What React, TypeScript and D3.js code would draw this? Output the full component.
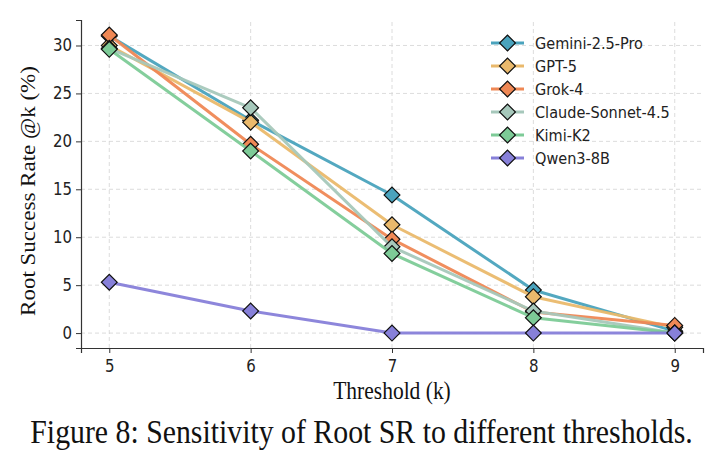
import { useEffect, useRef } from 'react';
import * as d3 from 'd3';

const thresholds = [5, 6, 7, 8, 9];
const modelNames = ['Gemini-2.5-Pro', 'GPT-5', 'Grok-4', 'Claude-Sonnet-4.5', 'Kimi-K2', 'Qwen3-8B'];
const modelColors = ['#4aa3bd', '#eab96c', '#ef8855', '#a6c8bb', '#7dcb97', '#8780d9'];
const gemini = [31.0, 22.2, 14.4, 4.5, 0.2];
const gpt5 = [30.0, 22.0, 11.3, 3.8, 0.6];
const grok4 = [31.1, 19.7, 9.8, 2.2, 0.8];
const claude = [29.7, 23.5, 9.0, 2.3, 0.0];
const kimi = [29.6, 19.0, 8.3, 1.6, 0.0];
const qwen = [5.3, 2.3, 0.0, 0.0, 0.0];
const yTicks = [0, 5, 10, 15, 20, 25, 30];

const seriesValues = [gemini, gpt5, grok4, claude, kimi, qwen];

// the source picture is a bit taller than wide, so text gets a small vertical stretch
const STRETCH = 1.15;

export default function App() {
  const ref = useRef<SVGSVGElement | null>(null);

  useEffect(() => {
    if (!ref.current) return;
    const W = 725, H = 469;
    const margin = { top: 20, right: 22, bottom: 121, left: 81 };
    const svg = d3.select(ref.current).attr('width', W).attr('height', H);
    svg.selectAll('*').remove();

    const x = d3.scaleLinear().domain([4.8, 9.2]).range([margin.left, W - margin.right]);
    const y = d3.scaleLinear().domain([-1.555, 32.66]).range([H - margin.bottom, margin.top]);
    const sans = 'DejaVu Sans, sans-serif';
    const serif = 'Liberation Serif, Times New Roman, serif';

    // grid
    const grid = svg.append('g').attr('stroke', '#d3d3d3').attr('stroke-width', 0.8)
      .attr('stroke-dasharray', '4,3');
    thresholds.forEach(t => grid.append('line').attr('x1', x(t)).attr('x2', x(t))
      .attr('y1', y.range()[0]).attr('y2', y.range()[1]));
    yTicks.forEach(t => grid.append('line').attr('x1', x.range()[0]).attr('x2', x.range()[1])
      .attr('y1', y(t)).attr('y2', y(t)));

    // axes
    const xAxis = svg.append('g').attr('transform', `translate(0,${H - margin.bottom})`)
      .call(d3.axisBottom(x).tickValues(thresholds).tickFormat(d3.format('d')).tickSizeOuter(0).tickSize(5).tickPadding(0));
    const yAxis = svg.append('g').attr('transform', `translate(${margin.left},0)`)
      .call(d3.axisLeft(y).tickValues(yTicks).tickSizeOuter(0).tickSize(5).tickPadding(0));
    xAxis.selectAll('.tick text').attr('y', null).attr('dy', null)
      .attr('transform', `translate(0,24) scale(1,${STRETCH})`);
    yAxis.selectAll('.tick text').attr('x', null).attr('dy', null)
      .attr('transform', `translate(-9,5.5) scale(1,${STRETCH})`);
    [xAxis, yAxis].forEach(a => {
      a.selectAll('text').attr('font-family', sans).attr('font-size', 15).attr('fill', '#222');
      a.selectAll('line').attr('stroke', '#333').attr('stroke-width', 1);
      a.select('.domain').attr('stroke', '#333').attr('stroke-width', 1.2);
    });

    const line = d3.line<number>().x((_, i) => x(thresholds[i])).y(d => y(d));
    const diamond = d3.symbol().type(d3.symbolSquare).size(125);

    seriesValues.forEach((vals, s) => {
      svg.append('path').datum(vals).attr('d', line).attr('fill', 'none')
        .attr('stroke', modelColors[s]).attr('stroke-width', 3).attr('opacity', 0.95)
        .attr('stroke-linejoin', 'round');
      svg.append('g').selectAll('path').data(vals).join('path')
        .attr('d', diamond)
        .attr('transform', (d, i) => `translate(${x(thresholds[i])},${y(d)}) rotate(45)`)
        .attr('fill', modelColors[s]).attr('stroke', '#111').attr('stroke-width', 1.2);
    });

    // legend
    const lg = svg.append('g').attr('transform', 'translate(491,43)');
    modelNames.forEach((name, i) => {
      const row = lg.append('g').attr('transform', `translate(0,${i * 23})`);
      row.append('line').attr('x1', 0).attr('x2', 33).attr('stroke', modelColors[i]).attr('stroke-width', 3);
      row.append('path').attr('d', diamond).attr('transform', 'translate(16.5,0) rotate(45)')
        .attr('fill', modelColors[i]).attr('stroke', '#111').attr('stroke-width', 1.2);
      row.append('text').attr('transform', `translate(44,5.5) scale(1,${STRETCH})`)
        .attr('font-family', sans).attr('font-size', 14.5).attr('fill', '#222').text(name);
    });

    svg.append('text').attr('transform', `translate(${x(7)},399) scale(1,${STRETCH})`).attr('text-anchor', 'middle')
      .attr('font-family', serif).attr('font-size', 21.5).attr('fill', '#111').text('Threshold (k)');
    svg.append('text').attr('transform', `translate(35,191) scale(1,${STRETCH}) rotate(-90)`)
      .attr('text-anchor', 'middle').attr('font-family', serif).attr('font-size', 20).attr('fill', '#111')
      .text('Root Success Rate @k (%)');
    svg.append('text').attr('transform', `translate(${W / 2 - 1},443) scale(1,${STRETCH})`).attr('text-anchor', 'middle')
      .attr('font-family', serif).attr('font-size', 29.8).attr('fill', '#111')
      .text('Figure 8: Sensitivity of Root SR to different thresholds.');
  }, []);

  return <svg ref={ref} style={{ display: 'block', position: 'absolute', left: 0, top: 0 }} />;
}
